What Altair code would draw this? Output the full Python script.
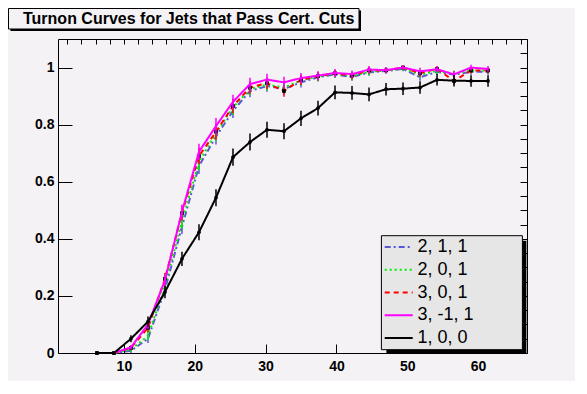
import altair as alt
import pandas as pd

TITLE = "Turnon Curves for Jets that Pass Cert. Cuts"

# x positions of the points (jet Et bins)
x_vals = [6.2, 8.6, 11.0, 13.4, 15.8, 18.2, 20.6, 23.0, 25.4, 27.8, 30.2, 32.6,
          35.0, 37.4, 39.8, 42.2, 44.6, 47.0, 49.4, 51.8, 54.2, 56.6, 59.0, 61.4]

labels = ["2, 1, 1", "2, 0, 1", "3, 0, 1", "3, -1, 1", "1, 0, 0"]

y_211 = [0, 0, 0.008, 0.05, 0.222, 0.442, 0.655, 0.758, 0.848, 0.918, 0.935, 0.925,
         0.948, 0.966, 0.976, 0.967, 0.983, 0.988, 0.995, 0.966, 0.985, 0.975, 0.985, 0.985]
y_201 = [0, 0, 0.012, 0.06, 0.235, 0.46, 0.67, 0.77, 0.86, 0.925, 0.94, 0.93,
         0.955, 0.968, 0.978, 0.97, 0.985, 0.99, 0.997, 0.975, 0.988, 0.978, 0.99, 0.99]
y_301 = [0, 0, 0.018, 0.088, 0.26, 0.49, 0.69, 0.775, 0.865, 0.93, 0.945, 0.918,
         0.957, 0.97, 0.98, 0.972, 0.99, 0.99, 1.0, 0.98, 0.995, 0.953, 0.99, 0.99]
y_3m11 = [0, 0, 0.02, 0.1, 0.255, 0.495, 0.705, 0.795, 0.88, 0.942, 0.958, 0.948,
          0.963, 0.972, 0.981, 0.977, 0.993, 0.991, 1.0, 0.987, 0.994, 0.976, 1.0, 0.995]
y_100 = [0, 0, 0.05, 0.11, 0.214, 0.33, 0.423, 0.544, 0.686, 0.739, 0.782, 0.777,
         0.822, 0.858, 0.913, 0.911, 0.906, 0.924, 0.926, 0.93, 0.957, 0.954, 0.953, 0.953]

err_colored = [0, 0, 0.008, 0.015, 0.02, 0.025, 0.028, 0.028, 0.025, 0.022, 0.02, 0.02,
               0.018, 0.015, 0.013, 0.013, 0.012, 0.01, 0.008, 0.012, 0.01, 0.012, 0.01, 0.01]
err_black = [0, 0, 0.012, 0.018, 0.022, 0.025, 0.028, 0.03, 0.03, 0.03, 0.028, 0.028,
             0.027, 0.026, 0.024, 0.024, 0.024, 0.022, 0.022, 0.022, 0.02, 0.02, 0.02, 0.02]

x_major = [10, 20, 30, 40, 50, 60]
x_minor = [2, 4, 6, 8, 10, 12, 14, 16, 18, 20, 22, 24, 26, 28, 30, 32, 34, 36, 38, 40,
           42, 44, 46, 48, 50, 52, 54, 56, 58, 60, 62, 64, 66]
y_major = [0, 0.2, 0.4, 0.6, 0.8, 1.0]
y_minor = [0, 0.05, 0.1, 0.15, 0.2, 0.25, 0.3, 0.35, 0.4, 0.45, 0.5, 0.55, 0.6, 0.65,
           0.7, 0.75, 0.8, 0.85, 0.9, 0.95, 1.0, 1.05, 1.1]

# styles
colors = ["#5a56d8", "#00ee00", "#ff0000", "#ff00ff", "#000000"]
dashes = [[6, 3, 2, 3], [2, 3], [5, 4], [1, 0], [1, 0]]
BG = "#f5f2f5"
FONT = "Liberation Sans"

series_vals = [y_211, y_201, y_301, y_3m11, y_100]
series_errs = [err_colored, err_colored, err_colored, err_colored, err_black]
rows = []
for lab, ys_, es_ in zip(labels, series_vals, series_errs):
    for xv, yv, ev in zip(x_vals, ys_, es_):
        rows.append({"series": lab, "x": xv, "y": yv, "err": ev})
df = pd.DataFrame(rows)
df_leg = pd.DataFrame({"label": labels})
one = pd.DataFrame({"k": [0]})

xs = alt.Scale(domain=[0.7, 66.9], nice=False, zero=False)
ysc = alt.Scale(domain=[0, 1.1], nice=False, zero=False)
col = alt.Scale(domain=labels, range=colors)
dsh = alt.Scale(domain=labels, range=dashes)

base = alt.Chart(df)

# axis carrier layers (invisible points)
ax_major = base.mark_point(opacity=0).encode(
    x=alt.X("x:Q", scale=xs, axis=alt.Axis(values=x_major, tickSize=9, offset=-9, domain=False,
                                           grid=False, labelPadding=6, title=None, format="d")),
    y=alt.Y("y:Q", scale=ysc, axis=alt.Axis(values=y_major, tickSize=14, offset=-14, domain=False,
                                            grid=False, labelPadding=4, title=None, format=".1~f")),
)
ax_minor = base.mark_point(opacity=0).encode(
    x=alt.X("x:Q", scale=xs, axis=alt.Axis(values=x_minor, tickSize=5, offset=-5, domain=False,
                                           grid=False, labels=False, title=None)),
    y=alt.Y("y:Q", scale=ysc, axis=alt.Axis(values=y_minor, tickSize=7, offset=-7, domain=False,
                                            grid=False, labels=False, title=None)),
)

data_layers = []
for lab in labels:
    sub = base.transform_filter(alt.datum.series == lab)
    errs = sub.transform_filter("datum.err > 0").transform_calculate(
        lo="datum.y - datum.err", hi="datum.y + datum.err"
    ).mark_rule(strokeWidth=1.5).encode(
        x=alt.X("x:Q", scale=xs, axis=None),
        y=alt.Y("lo:Q", scale=ysc, axis=None),
        y2="hi:Q",
        color=alt.Color("series:N", scale=col, legend=None),
    )
    line = sub.mark_line(strokeWidth=2).encode(
        x=alt.X("x:Q", scale=xs, axis=None),
        y=alt.Y("y:Q", scale=ysc, axis=None),
        color=alt.Color("series:N", scale=col, legend=None),
        strokeDash=alt.StrokeDash("series:N", scale=dsh, legend=None),
    )
    data_layers += [errs, line]
    if lab == "3, 0, 1":
        data_layers.append(sub.mark_square(size=14, color="black", opacity=1).encode(
            x=alt.X("x:Q", scale=xs, axis=None), y=alt.Y("y:Q", scale=ysc, axis=None)))
    if lab == "1, 0, 0":
        data_layers.append(sub.mark_circle(size=14, color="black", opacity=1).encode(
            x=alt.X("x:Q", scale=xs, axis=None), y=alt.Y("y:Q", scale=ysc, axis=None)))

main = alt.layer(ax_major, ax_minor, *data_layers).resolve_axis(x="independent", y="independent")

# legend (drawn from the labels list through a point scale)
leg_y = alt.Scale(type="point", domain=labels, range=[208, 299], padding=0)
obase = alt.Chart(one)
leg_shadow = obase.mark_rect(color="black").encode(
    x=alt.value(328.4), x2=alt.value(468.4), y=alt.value(201.7), y2=alt.value(314.7))
leg_box = obase.mark_rect(fill="#e6e6e6", stroke="black", strokeWidth=1).encode(
    x=alt.value(323.4), x2=alt.value(464.4), y=alt.value(196.7), y2=alt.value(310.7))
leg_lines = alt.Chart(df_leg).mark_rule(strokeWidth=2).encode(
    x=alt.value(326.7), x2=alt.value(354.7),
    y=alt.Y("label:N", scale=leg_y, axis=None),
    color=alt.Color("label:N", scale=col, legend=None),
    strokeDash=alt.StrokeDash("label:N", scale=dsh, legend=None),
)
leg_text = alt.Chart(df_leg).mark_text(align="left", baseline="middle", fontSize=18,
                                       font=FONT, color="black").encode(
    x=alt.value(359.4),
    y=alt.Y("label:N", scale=leg_y, axis=None),
    text="label:N",
)

# title box
t_shadow = obase.mark_rect(color="black").encode(
    x=alt.value(-47.5), x2=alt.value(303), y=alt.value(-28.5), y2=alt.value(-8))
t_box = obase.mark_rect(fill=BG, stroke="black", strokeWidth=1).encode(
    x=alt.value(-49.5), x2=alt.value(301), y=alt.value(-30.5), y2=alt.value(-10))
t_text = obase.mark_text(text=TITLE, align="left", baseline="middle", fontSize=16,
                         fontWeight="bold", font=FONT, color="black").encode(
    x=alt.value(-35), y=alt.value(-20.3))

legend = alt.layer(leg_shadow, leg_box, leg_lines, leg_text, t_shadow, t_box, t_text)

chart = alt.layer(main, legend).resolve_scale(y="independent").properties(
    width=469, height=314,
    autosize=alt.AutoSizeParams(type="none"),
    padding={"left": 50, "top": 31, "right": 48, "bottom": 28},
    background=BG,
).configure_view(stroke="black", strokeWidth=1).configure_axis(
    labelFont=FONT, labelFontWeight="bold", labelFontSize=14, labelColor="black",
    tickColor="black", tickWidth=1,
)

chart.save("out.html", embed_options={"renderer": "svg", "actions": False})
